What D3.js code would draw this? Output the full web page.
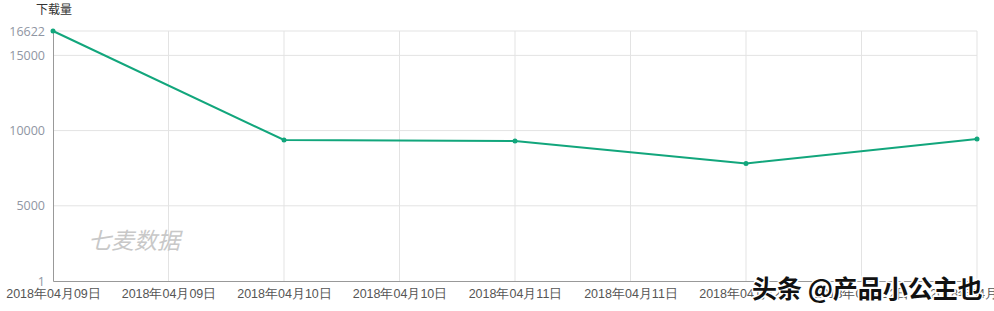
<!DOCTYPE html>
<html>
<head>
<meta charset="utf-8">
<script src="https://cdn.jsdelivr.net/npm/d3@7"></script>
<style>
  body { margin: 0; background: #fff; }
  svg { display: block; font-family: "Noto Sans CJK SC", "Noto Sans", sans-serif; }
</style>
</head>
<body>
<svg width="994" height="311"></svg>
<script>
// data
const categories = ['2018年04月09日', '2018年04月09日', '2018年04月10日', '2018年04月10日',
    '2018年04月11日', '2018年04月11日', '2018年04月12日', '2018年04月12日', '2018年04月13日'];
const downloads = [16622, null, 9376, null, 9309, null, 7813, null, 9441];
const yTicks = [1, 5000, 10000, 15000, 16622];

const svg = d3.select('svg');
const margin = {left: 53, right: 17, top: 31, bottom: 30};
const width = 994, height = 311;

const x = d3.scalePoint()
    .domain(d3.range(categories.length))
    .range([margin.left, width - margin.right]);
const y = d3.scaleLinear()
    .domain([1, 16622])
    .range([height - margin.bottom, margin.top]);

// grid
svg.append('g').selectAll('line.h')
    .data(yTicks.slice(1))
    .enter().append('line')
    .attr('x1', margin.left).attr('x2', width - margin.right)
    .attr('y1', d => y(d)).attr('y2', d => y(d))
    .style('stroke', '#e3e3e3').style('stroke-width', 1);
svg.append('g').selectAll('line.v')
    .data(d3.range(1, categories.length))
    .enter().append('line')
    .attr('x1', d => x(d)).attr('x2', d => x(d))
    .attr('y1', margin.top).attr('y2', height - margin.bottom)
    .style('stroke', '#e3e3e3').style('stroke-width', 1);

// axes
const yAxis = svg.append('g')
    .attr('transform', `translate(${margin.left},0)`)
    .call(d3.axisLeft(y).tickValues(yTicks).tickFormat(d3.format('d')).tickSize(0).tickPadding(8));
yAxis.select('.domain').style('stroke', '#999');
yAxis.selectAll('text').style('fill', '#8f96a3').style('font-size', '12.5px')
    .style('font-family', '"Open Sans", sans-serif');

const xAxis = svg.append('g')
    .attr('transform', `translate(0,${height - margin.bottom})`)
    .call(d3.axisBottom(x).tickFormat(i => categories[i]).tickSize(0).tickPadding(8));
xAxis.select('.domain').style('stroke', '#999');
xAxis.selectAll('text').style('fill', '#555').style('font-size', '12.5px');

svg.append('text')
    .attr('x', 54).attr('y', 14)
    .attr('text-anchor', 'middle')
    .style('font-size', '12px').style('fill', '#333')
    .text('下载量');

// watermark
svg.append('text')
    .attr('x', 88).attr('y', 249)
    .style('font-size', '23px').style('font-style', 'italic')
    .style('fill', '#c8c8c8')
    .text('七麦数据');

// line
const pts = downloads.map((v, i) => ({i, v})).filter(d => d.v !== null);
const line = d3.line().x(d => x(d.i)).y(d => y(d.v));
svg.append('path')
    .datum(pts)
    .attr('d', line)
    .style('fill', 'none').style('stroke', '#12a67c').style('stroke-width', 2);
svg.append('g').selectAll('circle')
    .data(pts)
    .enter().append('circle')
    .attr('cx', d => x(d.i)).attr('cy', d => y(d.v))
    .attr('r', 2.5)
    .style('fill', '#12a67c');

// overlay mark
svg.append('text')
    .attr('x', 752).attr('y', 298)
    .style('font-size', '25px').style('font-weight', 'bold')
    .style('fill', '#111').style('stroke', '#fff').style('stroke-width', 3)
    .style('paint-order', 'stroke')
    .text('头条 @产品小公主也');
</script>
</body>
</html>
